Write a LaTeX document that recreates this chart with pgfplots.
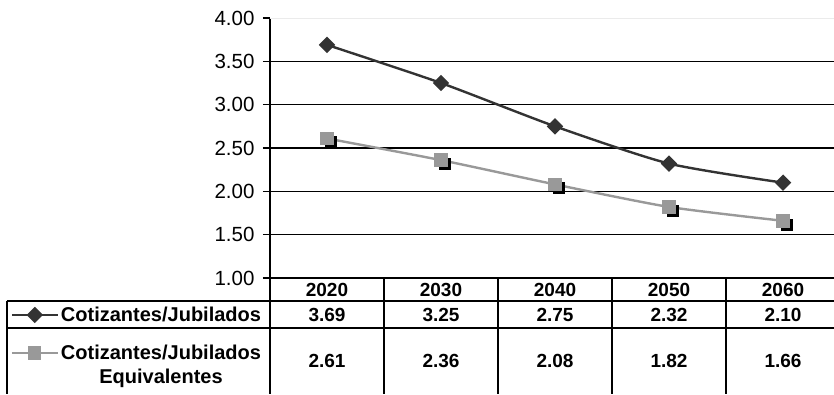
\documentclass[border=0pt]{standalone}
\usepackage{pgfplots}
\usepackage{pgfplotstable}
\pgfplotsset{compat=1.18}
\usepackage{fontspec}
\setmainfont{Liberation Sans}
\definecolor{serA}{HTML}{333333}
\definecolor{serB}{HTML}{999999}

\pgfplotstableread{
idx year a    b
0   2020 3.69 2.61
1   2030 3.25 2.36
2   2040 2.75 2.08
3   2050 2.32 1.82
4   2060 2.10 1.66
}\ratios

\begin{document}
\begin{tikzpicture}[x=1pt,y=1pt]
\useasboundingbox (-270,-116) rectangle (564,278);
\begin{axis}[
  at={(0,0)}, anchor=south west,
  width=564pt, height=260pt, scale only axis,
  xmin=-0.5, xmax=4.447, ymin=1, ymax=4,
  axis y line*=left, axis x line*=bottom,
  y axis line style={-, line width=1.6pt},
  x axis line style={-, line width=1.6pt},
  xtick=\empty,
  ytick={1,1.5,...,4},
  extra y ticks={1.5,2,2.5,3,3.5},
  extra y tick labels={},
  extra y tick style={ymajorgrids=true, major tick length=0pt},
  major grid style={black, line width=1.3pt},
  tick align=outside, major tick length=7pt,
  tick style={black, line width=1.4pt},
  yticklabel style={/pgf/number format/.cd, fixed, fixed zerofill, precision=2,
    assume math mode=true},
  ticklabel style={font=\fontsize{20.5}{22}\selectfont, xshift=-5pt},
  clip=false,
  legend cell align=center,
  legend style={at={(axis description cs:-0.012,-0.103)}, anchor=north east,
    draw=none, fill=none, inner sep=0pt, row sep=18pt,
    font=\fontsize{20}{20.5}\selectfont\bfseries,
    /tikz/every even column/.append style={column sep=3pt}},
  legend image code/.code={%
    \draw[mark repeat=2, mark phase=2, #1]
      plot coordinates {(0pt,0pt) (23pt,0pt) (46pt,0pt)};},
]
% faint top gridline
\draw[black!8, line width=1pt] (axis cs:-0.5,4) -- (axis cs:4.447,4);

\addplot[color=serA, line width=2.4pt, smooth, tension=0.4,
  mark=square*, mark size=4.6pt, mark options={rotate=45, fill=serA, draw=serA, solid}]
  table[x=idx, y=a] {\ratios};
\addlegendentry{Cotizantes/Jubilados}

% drop shadow of the square markers
\addplot[draw=none, mark=square*, mark size=5.5pt, forget plot,
  mark options={fill=black, draw=black, xshift=3.5pt, yshift=-3.5pt}]
  table[x=idx, y=b] {\ratios};
\addplot[color=serB, line width=2.4pt, smooth, tension=0.4,
  mark=square*, mark size=5.5pt, mark options={fill=serB, draw=serB, solid}]
  table[x=idx, y=b] {\ratios};
\addlegendentry{\begin{tabular}[t]{@{}c@{}}Cotizantes/Jubilados\\[3pt]Equivalentes\end{tabular}}
\end{axis}

% data table below the plot
\begin{scope}[line width=1.6pt]
  \draw (0,0) -- (0,-116);
  \foreach \k in {1,...,4} \draw (114*\k,0) -- (114*\k,-116);
  \draw (-263,-23) -- (-263,-116);
  \draw (-263,-23) -- (564,-23);
  \draw (-263,-50) -- (564,-50);
\end{scope}
\begin{scope}[font=\fontsize{19}{20}\selectfont\bfseries]
  \foreach \y [count=\i from 0] in {2020,2030,2040,2050,2060}
    \node at (57+114*\i,-11.5) {\y};
  \foreach \v [count=\i from 0] in {3.69,3.25,2.75,2.32,2.10}
    \node at (57+114*\i,-36.5) {\v};
  \foreach \v [count=\i from 0] in {2.61,2.36,2.08,1.82,1.66}
    \node at (57+114*\i,-83) {\v};
\end{scope}
\end{tikzpicture}
\end{document}
